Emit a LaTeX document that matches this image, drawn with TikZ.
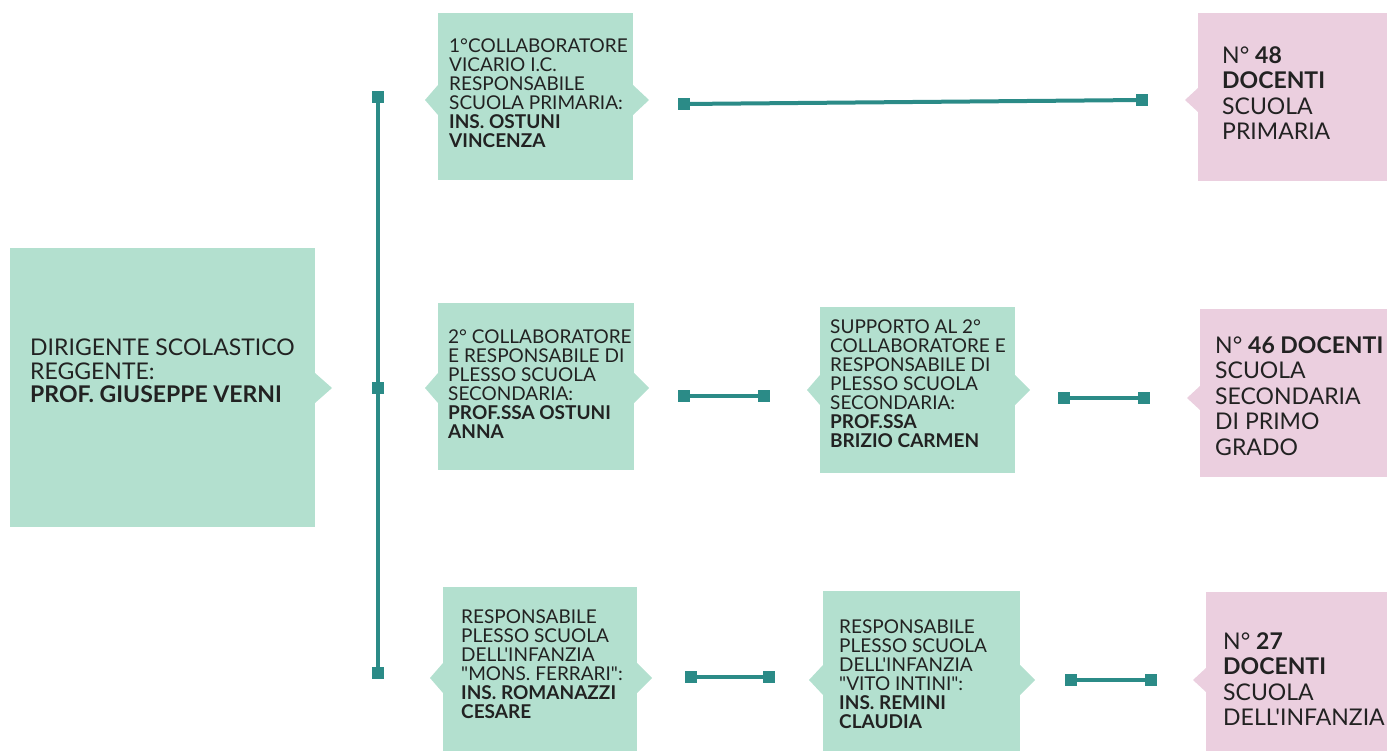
\documentclass[tikz,border=0pt]{standalone}
\usepackage{fontspec}
\setmainfont{Lato}[Ligatures=TeXOff]
\definecolor{gfill}{HTML}{B3E0CF}
\definecolor{pfill}{HTML}{EBCFDF}
\definecolor{tealc}{HTML}{2B8B87}
\definecolor{txtc}{HTML}{222222}
\newcommand\ptr[5]{\fill[#5] (#1,#3-#4) -- (#2,#3) -- (#1,#3+#4) -- cycle;}
\begin{document}
\begin{tikzpicture}[x=1pt,y=-1pt,
  gbox/.style={fill=gfill, draw=none, inner sep=0pt, anchor=north west},
  pbox/.style={fill=pfill, draw=none, inner sep=0pt, anchor=north west},
  lab/.style={anchor=north west, align=left, inner sep=0pt, text=txtc, font=\fontsize{19}{19}\selectfont},
  biglab/.style={anchor=north west, align=left, inner sep=0pt, text=txtc, font=\fontsize{23}{23.5}\selectfont},
  plab/.style={anchor=north west, align=left, inner sep=0pt, text=txtc, font=\fontsize{23}{25.5}\selectfont},
  sq/.style={fill=tealc, draw=none, minimum size=12pt, inner sep=0pt},
  conn/.style={draw=tealc, line width=4pt}]
\useasboundingbox (0,0) rectangle (1387,751);
\clip (0,0) rectangle (1387,751);

% boxes
\node[gbox, minimum width=305pt, minimum height=279pt] (ds) at (10,248) {};
\node[gbox, minimum width=195pt, minimum height=167pt] (b1) at (438,13) {};
\node[gbox, minimum width=196pt, minimum height=167pt] (b2) at (438,303) {};
\node[gbox, minimum width=195pt, minimum height=166pt] (b3) at (820,307) {};
\node[gbox, minimum width=194pt, minimum height=170pt] (b4) at (443,587) {};
\node[gbox, minimum width=197pt, minimum height=170pt] (b5) at (823,591) {};
\node[pbox, minimum width=189pt, minimum height=168pt] (p1) at (1198,13) {};
\node[pbox, minimum width=187pt, minimum height=168pt] (p2) at (1200,309) {};
\node[pbox, minimum width=181pt, minimum height=170pt] (p3) at (1206,592) {};

% pointers
\ptr{315}{332}{388}{15}{gfill}
\ptr{438}{425}{100}{15}{gfill}
\ptr{633}{649}{100}{15}{gfill}
\ptr{438}{425}{388}{15}{gfill}
\ptr{634}{649}{388}{15}{gfill}
\ptr{820}{807}{390}{15}{gfill}
\ptr{1015}{1030}{390}{15}{gfill}
\ptr{443}{430}{678}{15}{gfill}
\ptr{637}{652}{678}{15}{gfill}
\ptr{823}{809}{680}{15}{gfill}
\ptr{1020}{1035}{680}{15}{gfill}
\ptr{1198}{1185}{100}{12}{pfill}
\ptr{1200}{1187}{398}{12}{pfill}
\ptr{1206}{1193}{680}{12}{pfill}

% texts
\node[biglab] (tds) at (30,339) {DIRIGENTE SCOLASTICO\\REGGENTE:\\\textbf{PROF. GIUSEPPE VERNI}};
\node[lab] (t1) at (449,39) {1°COLLABORATORE\\VICARIO I.C.\\RESPONSABILE\\SCUOLA PRIMARIA:\\\textbf{INS. OSTUNI}\\\textbf{VINCENZA}};
\node[lab] (t2) at (448,330) {2° COLLABORATORE\\E RESPONSABILE DI\\PLESSO SCUOLA\\SECONDARIA:\\\textbf{PROF.SSA OSTUNI}\\\textbf{ANNA}};
\node[lab] (t3) at (830,320) {SUPPORTO AL 2°\\COLLABORATORE E\\RESPONSABILE DI\\PLESSO SCUOLA\\SECONDARIA:\\\textbf{PROF.SSA}\\\textbf{BRIZIO CARMEN}};
\node[lab] (t4) at (461,610) {RESPONSABILE\\PLESSO SCUOLA\\DELL'INFANZIA\\"MONS. FERRARI":\\\textbf{INS. ROMANAZZI}\\\textbf{CESARE}};
\node[lab] (t5) at (839,620) {RESPONSABILE\\PLESSO SCUOLA\\DELL'INFANZIA\\"VITO INTINI":\\\textbf{INS. REMINI}\\\textbf{CLAUDIA}};
\node[plab] (tp1) at (1222,46) {N° \textbf{48}\\\textbf{DOCENTI}\\SCUOLA\\PRIMARIA};
\node[plab] (tp2) at (1215,336) {N° \textbf{46 DOCENTI}\\SCUOLA\\SECONDARIA\\DI PRIMO\\GRADO};
\node[plab] (tp3) at (1223,632) {N° \textbf{27}\\\textbf{DOCENTI}\\SCUOLA\\DELL'INFANZIA};

% vertical connector
\node[sq] (v1) at (378,97) {};
\node[sq] (v2) at (378,388) {};
\node[sq] (v3) at (378,673) {};
\draw[conn] (v1.center) -- (v2.center) -- (v3.center);

% horizontal connectors
\node[sq] (c1a) at (684,104) {};
\node[sq] (c1b) at (1142,100) {};
\draw[conn] (c1a.center) -- (c1b.center);
\node[sq] (c2a) at (684,396) {};
\node[sq] (c2b) at (764,396) {};
\draw[conn] (c2a.center) -- (c2b.center);
\node[sq] (c2c) at (1064,398) {};
\node[sq] (c2d) at (1144,398) {};
\draw[conn] (c2c.center) -- (c2d.center);
\node[sq] (c3a) at (691,677) {};
\node[sq] (c3b) at (769,677) {};
\draw[conn] (c3a.center) -- (c3b.center);
\node[sq] (c3c) at (1071,680) {};
\node[sq] (c3d) at (1151,680) {};
\draw[conn] (c3c.center) -- (c3d.center);
\end{tikzpicture}
\end{document}
